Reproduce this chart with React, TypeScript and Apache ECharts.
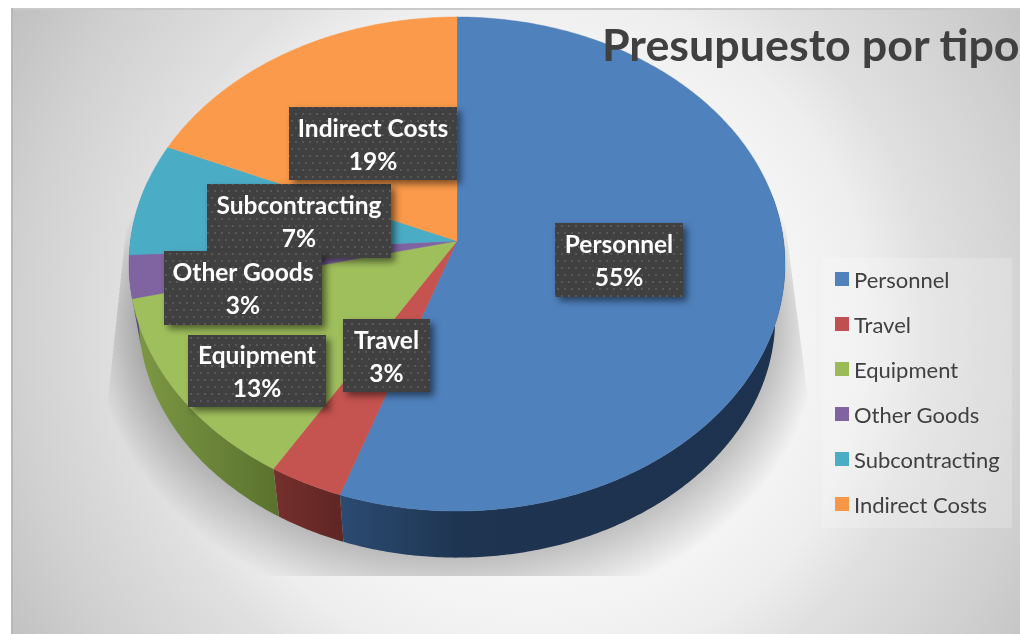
import React, { useEffect, useRef } from "react";
import * as echarts from "echarts";

const categories = ["Personnel", "Travel", "Equipment", "Other Goods", "Subcontracting", "Indirect Costs"];
const shares = [55.3, 3.35, 12.65, 2.8, 7.4, 18.5];
const titleText = "Presupuesto por tipo";

const topColors = ["#4f81bd", "#c5534f", "#9fbf5c", "#8064a2", "#4bacc6", "#fb9a4a"];
const legendColors = ["#4f81bd", "#c0504d", "#9bbb59", "#8064a2", "#4bacc6", "#f79646"];
const wallStops = [
  [[0, "#2b4b72"], [0.28, "#1e3450"], [1, "#1c324e"]],
  [[0, "#762f2c"], [1, "#5e2624"]],
  [[0, "#7e9945"], [1, "#5a722e"]],
  [[0, "#5f4a79"], [1, "#5f4a79"]],
  [[0, "#2f7f94"], [1, "#2f7f94"]],
  [[0, "#b86f33"], [1, "#b86f33"]],
];
// label boxes: [left, top, right, bottom, stacking order]
const labelBoxes = [
  [555, 223, 683, 297, 0],
  [343, 319, 430, 392, 1],
  [188, 335, 326, 407, 2],
  [164, 251, 322, 325, 4],
  [207, 184, 391, 258, 3],
  [289, 107, 457, 180, 5],
];

const APEX = { x: 457, y: 241 };
const PERSP = 0.0931;
const AX = 326.6;
const AY = 244.9;
const WALL = { scale: 0.97, cy: 318, topCy: 264, rx: 318, ry: 240 };
const SHADOW = { layers: 28, step: 1.5, alpha: 0.009, drop: 0.45 };
const total = shares.reduce((a, b) => a + b, 0);

function rimPoint(t: number) {
  const x = Math.sin(t);
  const y = -Math.cos(t);
  const d = 1 - PERSP * y;
  return [APEX.x + (AX * x) / d, APEX.y + (AY * y) / d];
}
function wallPoint(t: number) {
  const [x, y] = rimPoint(t);
  return [APEX.x + (x - APEX.x) * WALL.scale, WALL.cy + (y - WALL.topCy) * WALL.scale];
}
function arcPoints(from: number, to: number, fn: (t: number) => number[]) {
  const n = Math.max(2, Math.ceil((to - from) / 0.01));
  const out: number[][] = [];
  for (let i = 0; i <= n; i++) out.push(fn(from + ((to - from) * i) / n));
  return out;
}

function dotTile() {
  const c = document.createElement("canvas");
  c.width = 14;
  c.height = 14;
  const g = c.getContext("2d")!;
  g.fillStyle = "#404040";
  g.fillRect(0, 0, 14, 14);
  g.fillStyle = "#595959";
  [[1, 1], [8, 1], [4, 8], [11, 8]].forEach(([x, y]) => g.fillRect(x, y, 2, 2));
  return c;
}

export default function App() {
  const ref = useRef<HTMLDivElement>(null);
  useEffect(() => {
    const chart = echarts.init(ref.current!, undefined, { renderer: "svg" });
    const tile = dotTile();

    let running = 0;
    const sliceSeries = categories.map((name, i) => {
      const start = running;
      running += shares[i];
      return {
        type: "custom",
        name,
        coordinateSystem: "none",
        itemStyle: { color: legendColors[i] },
        silent: true,
        data: [[shares[i], start]],
        renderItem: (_p: any, api: any) => {
          const v = api.value(0);
          const s = api.value(1);
          const a0 = (s / total) * Math.PI * 2;
          const a1 = ((s + v) / total) * Math.PI * 2;
          const children: any[] = [];
          const lo = Math.max(a0, Math.PI * 0.44);
          const hi = Math.min(a1, Math.PI * 1.58);
          if (hi > lo) {
            const pts = [...arcPoints(lo, hi, rimPoint), ...arcPoints(lo, hi, wallPoint).reverse()];
            children.push({
              type: "polygon",
              z2: 1,
              shape: { points: pts },
              style: {
                fill: {
                  type: "linear", x: 0, y: 0, x2: 1, y2: 0,
                  colorStops: wallStops[i].map(([offset, color]) => ({ offset, color })),
                },
              },
            });
          }
          children.push({
            type: "polygon",
            z2: 10,
            shape: { points: [[APEX.x, APEX.y], ...arcPoints(a0, a1, rimPoint)] },
            style: { fill: topColors[i], stroke: topColors[i], lineWidth: 0.4 },
          });
          const [l, t, r, b, order] = labelBoxes[i];
          children.push({
            type: "rect",
            z2: 20 + order * 2,
            shape: { x: l, y: t, width: r - l, height: b - t },
            style: {
              fill: { image: tile, repeat: "repeat" },
              shadowBlur: 7,
              shadowOffsetX: 4,
              shadowOffsetY: 4,
              shadowColor: "rgba(0,0,0,0.5)",
            },
          });
          children.push({
            type: "text",
            z2: 21 + order * 2,
            style: {
              x: (l + r) / 2,
              y: (t + b) / 2,
              text: `${name}\n${Math.round(v)}%`,
              fill: "#ffffff",
              align: "center",
              verticalAlign: "middle",
              font: "bold 24.5px Lato",
              lineHeight: 33,
            },
          });
          return { type: "group", children };
        },
      };
    });

    const shadowSeries = {
      type: "custom",
      name: "shadow",
      coordinateSystem: "none",
      silent: true,
      data: [[1]],
      renderItem: () => {
        const children: any[] = [];
        for (let k = SHADOW.layers; k >= 0; k--) {
          const grow = k * SHADOW.step;
          children.push({
            type: "polygon",
            z2: 0,
            shape: {
              points: arcPoints(0, Math.PI * 2, wallPoint).map(([x, y]) => [
                APEX.x + (x - APEX.x) * (1 + grow / WALL.rx),
                WALL.cy + (y - WALL.cy) * (1 + grow / WALL.ry) + grow * SHADOW.drop,
              ]),
            },
            style: { fill: `rgba(0,0,0,${SHADOW.alpha})` },
            clipPath: {
              type: "polygon",
              shape: { points: [[131, 180], [780, 180], [831, 576], [89, 576]] },
            },
          });
        }
        return { type: "group", children };
      },
    };

    chart.setOption({
      animation: false,
      title: {
        text: titleText,
        left: 597,
        top: 16,
        textStyle: { fontFamily: "Lato", fontWeight: "bold", fontSize: 44.8, color: "#404040" },
      },
      legend: {
        data: categories,
        orient: "vertical",
        left: 835,
        top: 268,
        padding: 0,
        icon: "rect",
        itemWidth: 14,
        itemHeight: 14,
        itemGap: 23,
        selectedMode: false,
        textStyle: { fontFamily: "Lato", fontSize: 22, color: "#404040", lineHeight: 22 },
      },
      graphic: [
        {
          type: "rect",
          z: -10,
          silent: true,
          shape: { x: 11, y: 8, width: 1009, height: 626 },
          style: {
            fill: {
              type: "radial", x: 530, y: 330, r: 610, global: true,
              colorStops: [
                { offset: 0, color: "#fcfcfc" },
                { offset: 0.33, color: "#fafafa" },
                { offset: 0.56, color: "#eeeeee" },
                { offset: 0.66, color: "#e0e0e0" },
                { offset: 0.85, color: "#d0d0d0" },
                { offset: 1, color: "#c0c0c0" },
              ],
            },
          },
        },
        { type: "rect", z: -9, silent: true, shape: { x: 11, y: 8, width: 1009, height: 2 }, style: { fill: "#c9c9c9" } },
        { type: "rect", z: -9, silent: true, shape: { x: 11, y: 8, width: 2, height: 626 }, style: { fill: "#b8b8b8" } },
        { type: "rect", z: 1, silent: true, shape: { x: 822, y: 258, width: 190, height: 270 }, style: { fill: "rgba(255,255,255,0.2)" } },
      ],
      series: [shadowSeries, ...sliceSeries],
    });
    return () => chart.dispose();
  }, []);
  return <div ref={ref} style={{ position: "fixed", left: 0, top: 0, width: 1020, height: 634 }} />;
}
